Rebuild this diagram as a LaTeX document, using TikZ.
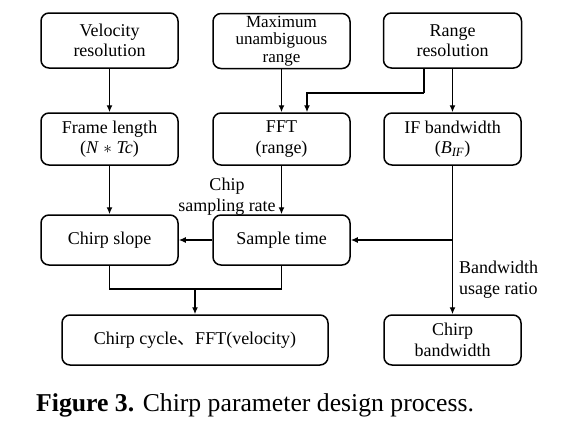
\documentclass[tikz,border=0pt]{standalone}
\usepackage{fontspec}
\setmainfont{Liberation Serif}
\newfontfamily\cjk{Noto Sans CJK SC}
\usetikzlibrary{arrows.meta}
\begin{document}
\begin{tikzpicture}[x=1pt,y=-1pt,
  box/.style={draw, line width=1.5pt, rounded corners=8pt, align=center, inner sep=0pt,
    font=\fontsize{18}{20.5}\selectfont},
  conn/.style={line width=1.5pt, -{Latex[length=7pt,width=6pt]}},
  plain/.style={line width=1.5pt},
  lbl/.style={font=\fontsize{18}{21}\selectfont, inner sep=0pt}]
\useasboundingbox (0,0) rectangle (562,429);
\fill[white] (0,0) rectangle (562,429);
% row 1
\node[box, minimum width=137pt, minimum height=55pt] (vr) at (109.5,40.5) {Velocity\\resolution};
\node[box, minimum width=137pt, minimum height=55pt, font=\fontsize{17}{17.5}\selectfont] (mur) at (281.5,41) {Maximum\\unambiguous\\range};
\node[box, minimum width=138pt, minimum height=55pt] (rr) at (452.5,40.5) {Range\\resolution};
% row 2
\node[box, minimum width=137pt, minimum height=52pt] (fl) at (109.5,139) {Frame length\\(\textit{N} $\ast$ \textit{Tc})};
\node[box, minimum width=137pt, minimum height=52pt] (fft) at (281.5,139) {FFT\\(range)};
\node[box, minimum width=137pt, minimum height=52pt] (ifb) at (452.5,139) {IF bandwidth\\(\textit{B}\textsubscript{\textit{IF}})};
% row 3
\node[box, minimum width=137pt, minimum height=50pt] (cs) at (109.5,240) {Chirp slope};
\node[box, minimum width=137pt, minimum height=50pt] (st) at (281.5,240) {Sample time};
% row 4
\node[box, minimum width=266pt, minimum height=50pt] (cc) at (195,340) {Chirp cycle{\cjk 、}FFT(velocity)};
\node[box, minimum width=137pt, minimum height=50pt] (cb) at (452.5,340) {Chirp\\bandwidth};
% connectors
\coordinate (k1) at (424,93);
\coordinate (k2) at (0,289);
\draw[conn] (vr) -- (fl);
\draw[conn] (mur) -- (fft);
\draw[plain] (rr.south -| k1) -- (k1);
\draw[conn] (k1) -| ([xshift=25.5pt]fft.north);
\draw[conn] (rr) -- (ifb);
\draw[conn] (fl) -- (cs);
\draw[conn] (fft) -- (st);
\node[lbl, align=center] (csr) at (227,197) {Chip\\sampling rate};
\draw[conn] (ifb) -- (cb);
\draw[conn] (ifb.south |- st.east) -- (st.east);
\draw[conn] (st) -- (cs);
\draw[plain] (cs.south) -- (cs.south |- k2) -| (st.south);
\draw[conn] (cc.north |- k2) -- (cc.north);
\node[lbl, align=left, anchor=west] (bur) at (459,280) {Bandwidth\\usage ratio};
% caption
\node[anchor=base west, inner sep=0pt, font=\fontsize{25.7}{28}\selectfont] (cap) at (36,411) {\textbf{Figure 3.} Chirp parameter design process.};
\end{tikzpicture}
\end{document}
